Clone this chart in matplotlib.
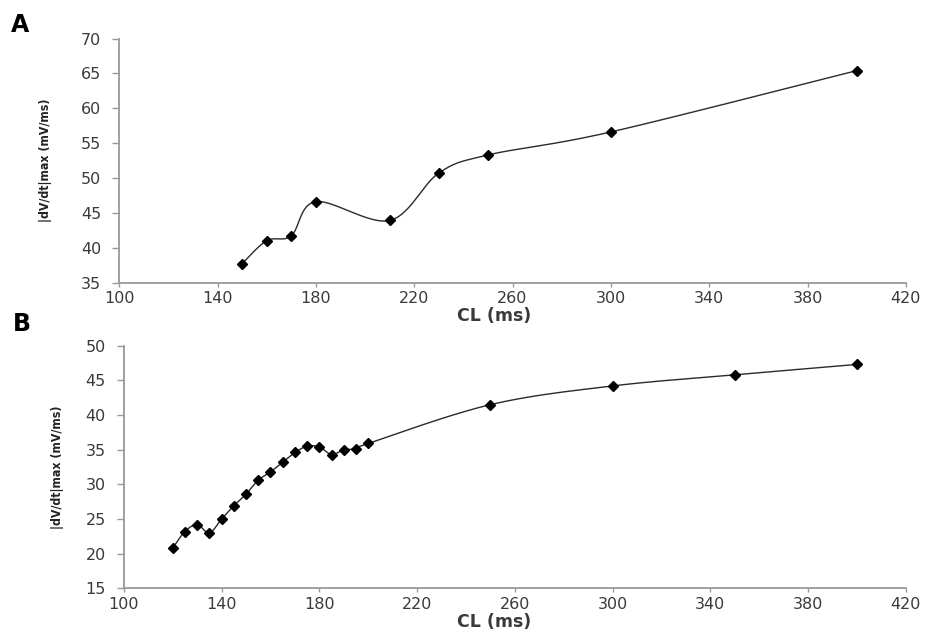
import numpy as np
import matplotlib
matplotlib.use("Agg")
from matplotlib import pyplot as plt

plt.rcParams["font.family"] = ["DejaVu Sans"]

# Panel A: |dV/dt|max vs cycle length
cl_a = [150, 160, 170, 180, 210, 230, 250, 300, 400]
dvdt_a = [37.7, 41.0, 41.7, 46.6, 43.9, 50.7, 53.3, 56.6, 65.4]

# Panel B
cl_b = [120, 125, 130, 135, 140, 145, 150, 155, 160, 165, 170, 175, 180,
        185, 190, 195, 200, 250, 300, 350, 400]
dvdt_b = [20.8, 23.2, 24.2, 23.0, 25.0, 26.9, 28.6, 30.6, 31.8, 33.2, 34.6,
          35.5, 35.4, 34.3, 35.0, 35.1, 35.9, 41.5, 44.2, 45.8, 47.3]

x_ticks = [100, 140, 180, 220, 260, 300, 340, 380, 420]
y_ticks_a = [35, 40, 45, 50, 55, 60, 65, 70]
y_ticks_b = [15, 20, 25, 30, 35, 40, 45, 50]

GREY = "#999999"
TEXT = "#3a3a3a"


def smooth(x, y, n=30):
    # bezier smoothing through the points, like a spreadsheet "smoothed line"
    p = np.column_stack([x, y]).astype(float)
    p = np.vstack([p[0], p, p[-1]])
    out = []
    t = np.linspace(0, 1, n)[:, None]
    for i in range(1, len(p) - 2):
        p0, p1, p2, p3 = p[i - 1], p[i], p[i + 1], p[i + 2]
        c1 = p1 + (p2 - p0) / 6
        c2 = p2 - (p3 - p1) / 6
        seg = ((1 - t) ** 3) * p1 + 3 * ((1 - t) ** 2) * t * c1 \
            + 3 * (1 - t) * t ** 2 * c2 + t ** 3 * p2
        out.append(seg)
    s = np.vstack(out)
    return s[:, 0], s[:, 1]


def style(ax, yticks, ylab_x, xlab_x):
    for side in ("top", "right"):
        ax.spines[side].set_visible(False)
    for side in ("left", "bottom"):
        ax.spines[side].set_color(GREY)
        ax.spines[side].set_linewidth(1.3)
    ax.set_xlim(100, 420)
    ax.set_ylim(yticks[0], yticks[-1])
    ax.set_xticks(x_ticks)
    ax.set_yticks(yticks)
    ax.tick_params(direction="out", width=1, color=GREY,
                   labelsize=11.5, labelcolor=TEXT)
    ax.tick_params(axis="y", length=5, pad=8)
    ax.tick_params(axis="x", length=3, pad=3)
    ax.set_xlabel("CL (ms)", fontsize=12.5, fontweight="bold", color=TEXT,
                  labelpad=1, x=xlab_x)
    ax.set_ylabel("|dV/dt|max (mV/ms)", fontsize=8.8, fontstretch="condensed",
                  fontweight="bold", color="#222222")
    ax.yaxis.set_label_coords(ylab_x, 0.5)


fig = plt.figure(figsize=(9.31, 6.32), dpi=100)
ax_a = fig.add_axes([0.128, 0.553, 0.845, 0.386])
ax_b = fig.add_axes([0.133, 0.069, 0.840, 0.384])

for ax, x, y, yt, lx, xx in ((ax_a, cl_a, dvdt_a, y_ticks_a, -0.086, 0.476),
                             (ax_b, cl_b, dvdt_b, y_ticks_b, -0.077, 0.474)):
    sx, sy = smooth(x, y)
    ax.plot(sx, sy, color="#2a2a2a", linewidth=1.0, zorder=2)
    ax.plot(x, y, linestyle="none", marker="D", markersize=5.5,
            color="black", zorder=3)
    style(ax, yt, lx, xx)

fig.text(0.012, 0.961, "A", fontsize=17, fontweight="bold", va="center")
fig.text(0.014, 0.487, "B", fontsize=17, fontweight="bold", va="center")

fig.savefig("out.png", dpi=100)
